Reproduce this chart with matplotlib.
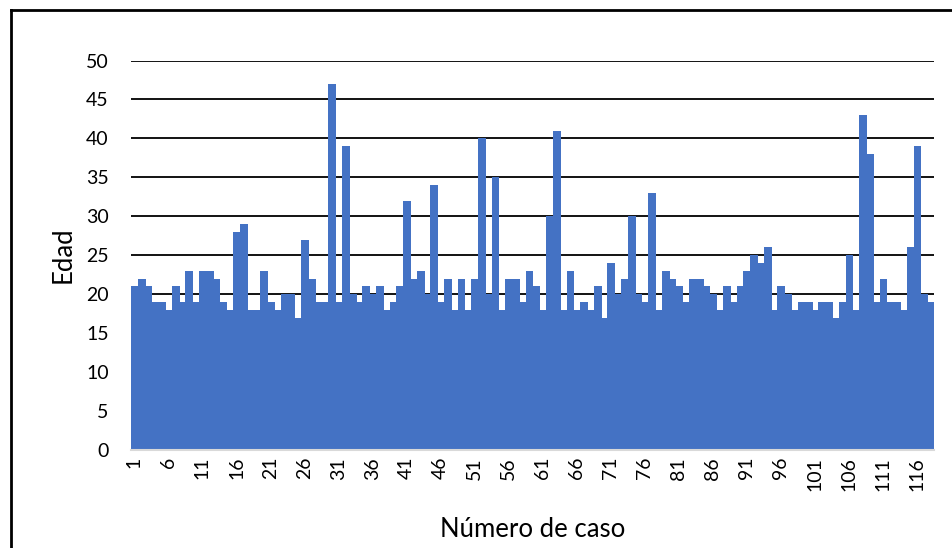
# Imports
# -----------------------------------------------------------
import numpy as np
import matplotlib
matplotlib.use("Agg")
import matplotlib.pyplot as plt
from matplotlib.lines import Line2D

plt.rcParams['font.family'] = ['Lato', 'DejaVu Sans']

# Data
# -----------------------------------------------------------
edad = [21, 22, 21, 19, 19, 18, 21, 19, 23, 19,
        23, 23, 22, 19, 18, 28, 29, 18, 18, 23,
        19, 18, 20, 20, 17, 27, 22, 19, 19, 47,
        19, 39, 20, 19, 21, 20, 21, 18, 19, 21,
        32, 22, 23, 20, 34, 19, 22, 18, 22, 18,
        22, 40, 20, 35, 18, 22, 22, 19, 23, 21,
        18, 30, 41, 18, 23, 18, 19, 18, 21, 17,
        24, 20, 22, 30, 20, 19, 33, 18, 23, 22,
        21, 19, 22, 22, 21, 20, 18, 21, 19, 21,
        23, 25, 24, 26, 18, 21, 20, 18, 19, 19,
        18, 19, 19, 17, 19, 25, 18, 43, 38, 19,
        22, 19, 19, 18, 26, 39, 20, 19]
casos = np.arange(1, len(edad) + 1)
tick_casos = list(range(1, len(edad) + 1, 5))
y_ticks = list(range(0, 51, 5))

# Figure
# -----------------------------------------------------------
W, H = 953, 548
fig = plt.figure(figsize=(W / 100, H / 100), dpi=100)
ax = fig.add_axes([131 / W, 1 - 450 / H, (934 - 131) / W, (450 - 60.5) / H])

# no antialiasing so no white seams appear between touching bars
ax.bar(casos, edad, width=1.0, color='#4472C4', edgecolor='#4472C4',
       linewidth=0.6, antialiased=False, zorder=3)

ax.set_xlim(0.5, len(edad) + 0.5)
ax.set_ylim(0, 50)
ax.set_yticks(y_ticks)
ax.set_xticks(tick_casos)
ax.set_xticklabels([str(c) for c in tick_casos], rotation=90)
ax.tick_params(axis='both', length=0, labelsize=14, colors='black')
ax.tick_params(axis='y', pad=16)
ax.tick_params(axis='x', pad=5)

# gridlines
ax.yaxis.grid(True, color='black', linewidth=1.3, zorder=1)
ax.set_axisbelow(True)
for s in ['top', 'right', 'left']:
    ax.spines[s].set_visible(False)
ax.spines['bottom'].set_color('#D9D9D9')
ax.spines['bottom'].set_linewidth(1.5)
ax.spines['bottom'].set_zorder(4)

# axis titles placed in figure pixels
fig.text(71 / W, 1 - 255 / H, 'Edad', fontsize=18.5, rotation=90,
         rotation_mode='anchor', ha='center', va='baseline')
fig.text(532.5 / W, 1 - 537 / H, 'Número de caso', fontsize=18.5,
         ha='center', va='baseline')

# outer border (only top and left show inside the picture)
fig.add_artist(Line2D([11 / W, 1], [1 - 10 / H, 1 - 10 / H], color='black', lw=2))
fig.add_artist(Line2D([11 / W, 11 / W], [0, 1 - 10 / H], color='black', lw=2))

fig.savefig('out.png', dpi=100)
